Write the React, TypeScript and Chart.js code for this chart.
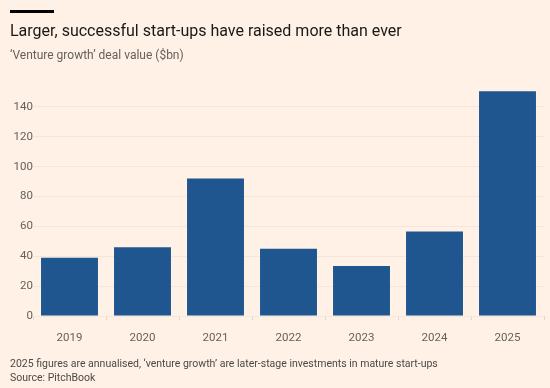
import React, { useEffect, useRef } from "react";
import { Chart, registerables } from "chart.js";

Chart.register(...registerables);

const categories = ["2019", "2020", "2021", "2022", "2023", "2024", "2025"];
const dealValues = [39, 46, 92, 45, 33.5, 56.5, 150.5];
const yTicks = [0, 20, 40, 60, 80, 100, 120, 140];

const FONT = "Roboto, 'Noto Sans', sans-serif";

export default function App() {
  const ref = useRef<HTMLCanvasElement | null>(null);

  useEffect(() => {
    if (!ref.current) return;
    const chart = new Chart(ref.current, {
      type: "bar",
      data: {
        labels: categories,
        datasets: [
          {
            data: dealValues,
            backgroundColor: "#1f568f",
            borderWidth: 0,
            barPercentage: 0.78,
            categoryPercentage: 1,
          },
        ],
      },
      options: {
        responsive: false,
        animation: false,
        layout: { padding: { top: 89, right: 6, bottom: 0, left: 0 } },
        plugins: { legend: { display: false }, tooltip: { enabled: false } },
        scales: {
          x: {
            grid: { display: true, drawOnChartArea: false, drawTicks: true, tickLength: 4, color: "#e6d6cb" },
            border: { display: false },
            ticks: { color: "#66605c", font: { family: FONT, size: 11.5 }, padding: 11 },
            afterFit: (s: any) => { s.height = 72; },
          },
          y: {
            min: 0,
            max: 152,
            afterBuildTicks: (s: any) => { s.ticks = yTicks.map((v) => ({ value: v })); },
            grid: { color: "#f5e6db", drawTicks: false },
            border: { display: false },
            ticks: { color: "#66605c", font: { family: FONT, size: 11.5 }, padding: 0 },
            afterFit: (s: any) => { s.width = 33; },
          },
        },
      },
    });
    return () => chart.destroy();
  }, []);

  return (
    <div style={{ position: "fixed", left: 0, top: 0, width: 550, height: 388, background: "#fff1e5", fontFamily: FONT, overflow: "hidden" }}>
      <canvas ref={ref} width={550} height={388} style={{ position: "absolute", left: 0, top: 0 }} />
      <div style={{ position: "absolute", left: 10, top: 10, width: 44, height: 3, background: "#000" }} />
      <div style={{ position: "absolute", left: 10, top: 21, fontSize: 16, lineHeight: "20px", color: "#1a1817", whiteSpace: "nowrap" }}>
        Larger, successful start-ups have raised more than ever
      </div>
      <div style={{ position: "absolute", left: 10, top: 48, fontSize: 12, lineHeight: "14px", color: "#66605c", whiteSpace: "nowrap" }}>
        ‘Venture growth’ deal value ($bn)
      </div>
      <div style={{ position: "absolute", left: 10, top: 357, fontSize: 10.5, lineHeight: "14px", color: "#4d4845", whiteSpace: "nowrap" }}>
        2025 figures are annualised, ‘venture growth’ are later-stage investments in mature start-ups
        <br />
        Source: PitchBook
      </div>
    </div>
  );
}
